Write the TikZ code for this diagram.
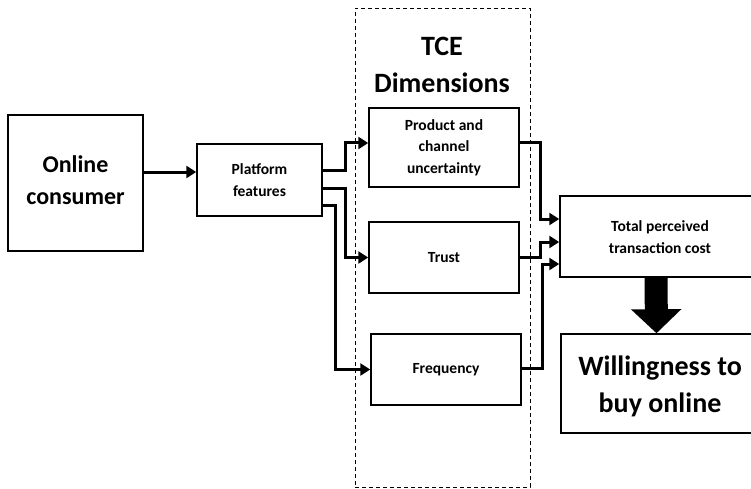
\documentclass[tikz,border=0pt]{standalone}
\usepackage{fontspec}
\setmainfont{Carlito}
\usetikzlibrary{arrows.meta}
\begin{document}
\begin{tikzpicture}[x=1pt,y=-1pt,
  box/.style={draw,line width=1.5pt,align=center,inner sep=0pt},
  smalltext/.style={font=\bfseries\fontsize{15.5}{21.5}\selectfont},
  conn/.style={line width=3pt,-{Triangle[length=10pt,width=12pt]}},
  container/.style={draw,dashed,dash pattern=on 4pt off 3pt,line width=0.8pt,inner sep=0pt},
]
\useasboundingbox (0,0) rectangle (751,489);
\node[container,minimum width=175pt,minimum height=479pt] (dim) at (442.5,247.5) {};
\node[font=\bfseries\fontsize{28}{37}\selectfont,align=center] (title) at (442,65) {TCE\\Dimensions};
\node[box,minimum width=135pt,minimum height=136pt] (oc) at (75.5,183) {};
\node[font=\bfseries\fontsize{24}{32}\selectfont,align=center] (oclabel) at (75.5,180) {Online\\consumer};
\node[box,smalltext,minimum width=125pt,minimum height=72pt] (pf) at (259.5,180) {Platform\\features};
\node[box,smalltext,minimum width=150pt,minimum height=79pt] (prod) at (444,147.5) {Product and\\channel\\uncertainty};
\node[box,smalltext,minimum width=150pt,minimum height=71pt] (trust) at (444,257.5) {Trust};
\node[box,smalltext,minimum width=150pt,minimum height=71pt] (freq) at (446,369.5) {Frequency};
\node[box,minimum width=192pt,minimum height=81pt] (tot) at (656,236.5) {};
\node[smalltext,align=center] (totlabel) at (660,237) {Total perceived\\transaction cost};
\node[box,minimum width=191pt,minimum height=99pt] (will) at (656.5,383.5) {};
\node[font=\bfseries\fontsize{28}{37}\selectfont,align=center] (willlabel) at (660,386.5) {Willingness to\\buy online};

\draw[conn] ([yshift=11pt]oc.east) -- ([yshift=8pt]pf.west);
\draw[conn] ([yshift=10pt]pf.east) -- ++(23,0) |- ([yshift=4.5pt]prod.west);
\draw[conn] ([yshift=-8pt]pf.east) -- ++(23,0) |- (trust.west);
\draw[conn] ([yshift=-25pt]pf.east) -- ++(13,0) |- (freq.west);
\draw[conn] ([yshift=4.5pt]prod.east) -- ++(21,0) |- ([yshift=17.5pt]tot.west);
\draw[conn] (trust.east) -- ++(21,0) |- ([yshift=-5.5pt]tot.west);
\draw[conn] ([yshift=1.5pt]freq.east) -- ++(21,0) |- ([yshift=-27.5pt]tot.west);
\draw[line width=23pt,-{Triangle[length=24pt,width=49pt]}] (tot.south) -- (will.north);
\end{tikzpicture}
\end{document}
